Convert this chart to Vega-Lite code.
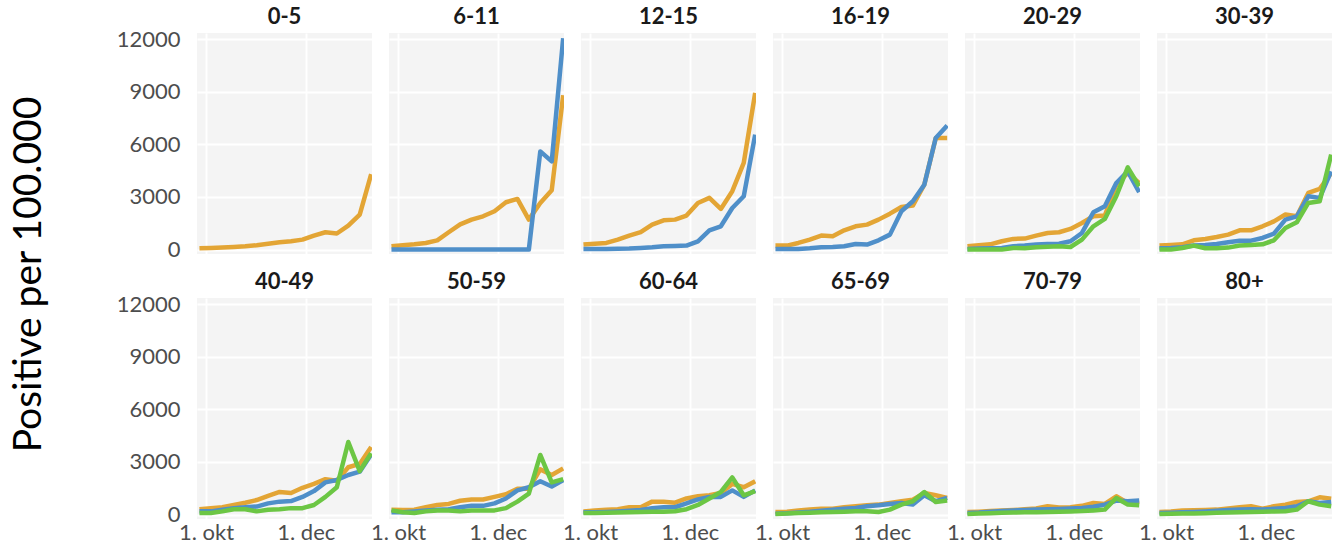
{
"$schema": "https://vega.github.io/schema/vega-lite/v6.json",
"padding": {"left": 10, "top": 6, "right": 0, "bottom": 0},
"background": "white",
"title": {"text": "Positive per 100.000", "orient": "left", "anchor": "middle", "font": "Lato", "fontSize": 39, "fontWeight": "normal", "color": "#000000", "offset": 67},
"data": {"values": [
{"a":"0-5","s":"Uvaccineret","d":"2021-09-27","v":75},{"a":"0-5","s":"Uvaccineret","d":"2021-10-04","v":90},{"a":"0-5","s":"Uvaccineret","d":"2021-10-11","v":115},{"a":"0-5","s":"Uvaccineret","d":"2021-10-18","v":150},{"a":"0-5","s":"Uvaccineret","d":"2021-10-25","v":190},{"a":"0-5","s":"Uvaccineret","d":"2021-11-01","v":250},{"a":"0-5","s":"Uvaccineret","d":"2021-11-08","v":330},{"a":"0-5","s":"Uvaccineret","d":"2021-11-15","v":420},{"a":"0-5","s":"Uvaccineret","d":"2021-11-22","v":480},{"a":"0-5","s":"Uvaccineret","d":"2021-11-29","v":570},{"a":"0-5","s":"Uvaccineret","d":"2021-12-06","v":800},{"a":"0-5","s":"Uvaccineret","d":"2021-12-13","v":990},{"a":"0-5","s":"Uvaccineret","d":"2021-12-20","v":920},{"a":"0-5","s":"Uvaccineret","d":"2021-12-27","v":1370},{"a":"0-5","s":"Uvaccineret","d":"2022-01-03","v":2000},{"a":"0-5","s":"Uvaccineret","d":"2022-01-10","v":4300},

{"a":"6-11","s":"Uvaccineret","d":"2021-09-27","v":190},{"a":"6-11","s":"Uvaccineret","d":"2021-10-04","v":250},{"a":"6-11","s":"Uvaccineret","d":"2021-10-11","v":300},{"a":"6-11","s":"Uvaccineret","d":"2021-10-18","v":380},{"a":"6-11","s":"Uvaccineret","d":"2021-10-25","v":530},{"a":"6-11","s":"Uvaccineret","d":"2021-11-01","v":990},{"a":"6-11","s":"Uvaccineret","d":"2021-11-08","v":1440},{"a":"6-11","s":"Uvaccineret","d":"2021-11-15","v":1710},{"a":"6-11","s":"Uvaccineret","d":"2021-11-22","v":1900},{"a":"6-11","s":"Uvaccineret","d":"2021-11-29","v":2190},{"a":"6-11","s":"Uvaccineret","d":"2021-12-06","v":2700},{"a":"6-11","s":"Uvaccineret","d":"2021-12-13","v":2890},{"a":"6-11","s":"Uvaccineret","d":"2021-12-20","v":1710},{"a":"6-11","s":"Uvaccineret","d":"2021-12-27","v":2660},{"a":"6-11","s":"Uvaccineret","d":"2022-01-03","v":3380},{"a":"6-11","s":"Uvaccineret","d":"2022-01-10","v":8800},
{"a":"6-11","s":"Færdigvaccineret","d":"2021-09-27","v":0},{"a":"6-11","s":"Færdigvaccineret","d":"2021-10-04","v":0},{"a":"6-11","s":"Færdigvaccineret","d":"2021-10-11","v":0},{"a":"6-11","s":"Færdigvaccineret","d":"2021-10-18","v":0},{"a":"6-11","s":"Færdigvaccineret","d":"2021-10-25","v":0},{"a":"6-11","s":"Færdigvaccineret","d":"2021-11-01","v":0},{"a":"6-11","s":"Færdigvaccineret","d":"2021-11-08","v":0},{"a":"6-11","s":"Færdigvaccineret","d":"2021-11-15","v":0},{"a":"6-11","s":"Færdigvaccineret","d":"2021-11-22","v":0},{"a":"6-11","s":"Færdigvaccineret","d":"2021-11-29","v":0},{"a":"6-11","s":"Færdigvaccineret","d":"2021-12-06","v":0},{"a":"6-11","s":"Færdigvaccineret","d":"2021-12-13","v":0},{"a":"6-11","s":"Færdigvaccineret","d":"2021-12-20","v":0},{"a":"6-11","s":"Færdigvaccineret","d":"2021-12-27","v":5600},{"a":"6-11","s":"Færdigvaccineret","d":"2022-01-03","v":5030},{"a":"6-11","s":"Færdigvaccineret","d":"2022-01-10","v":12060},

{"a":"12-15","s":"Uvaccineret","d":"2021-09-27","v":285},{"a":"12-15","s":"Uvaccineret","d":"2021-10-04","v":340},{"a":"12-15","s":"Uvaccineret","d":"2021-10-11","v":380},{"a":"12-15","s":"Uvaccineret","d":"2021-10-18","v":570},{"a":"12-15","s":"Uvaccineret","d":"2021-10-25","v":800},{"a":"12-15","s":"Uvaccineret","d":"2021-11-01","v":1000},{"a":"12-15","s":"Uvaccineret","d":"2021-11-08","v":1425},{"a":"12-15","s":"Uvaccineret","d":"2021-11-15","v":1670},{"a":"12-15","s":"Uvaccineret","d":"2021-11-22","v":1710},{"a":"12-15","s":"Uvaccineret","d":"2021-11-29","v":1940},{"a":"12-15","s":"Uvaccineret","d":"2021-12-06","v":2660},{"a":"12-15","s":"Uvaccineret","d":"2021-12-13","v":2950},{"a":"12-15","s":"Uvaccineret","d":"2021-12-20","v":2320},{"a":"12-15","s":"Uvaccineret","d":"2021-12-27","v":3330},{"a":"12-15","s":"Uvaccineret","d":"2022-01-03","v":4940},{"a":"12-15","s":"Uvaccineret","d":"2022-01-10","v":8930},
{"a":"12-15","s":"Færdigvaccineret","d":"2021-09-27","v":40},{"a":"12-15","s":"Færdigvaccineret","d":"2021-10-04","v":40},{"a":"12-15","s":"Færdigvaccineret","d":"2021-10-11","v":40},{"a":"12-15","s":"Færdigvaccineret","d":"2021-10-18","v":50},{"a":"12-15","s":"Færdigvaccineret","d":"2021-10-25","v":60},{"a":"12-15","s":"Færdigvaccineret","d":"2021-11-01","v":95},{"a":"12-15","s":"Færdigvaccineret","d":"2021-11-08","v":130},{"a":"12-15","s":"Færdigvaccineret","d":"2021-11-15","v":190},{"a":"12-15","s":"Færdigvaccineret","d":"2021-11-22","v":210},{"a":"12-15","s":"Færdigvaccineret","d":"2021-11-29","v":230},{"a":"12-15","s":"Færdigvaccineret","d":"2021-12-06","v":475},{"a":"12-15","s":"Færdigvaccineret","d":"2021-12-13","v":1100},{"a":"12-15","s":"Færdigvaccineret","d":"2021-12-20","v":1330},{"a":"12-15","s":"Færdigvaccineret","d":"2021-12-27","v":2375},{"a":"12-15","s":"Færdigvaccineret","d":"2022-01-03","v":3040},{"a":"12-15","s":"Færdigvaccineret","d":"2022-01-10","v":6555},

{"a":"16-19","s":"Uvaccineret","d":"2021-09-27","v":230},{"a":"16-19","s":"Uvaccineret","d":"2021-10-04","v":230},{"a":"16-19","s":"Uvaccineret","d":"2021-10-11","v":380},{"a":"16-19","s":"Uvaccineret","d":"2021-10-18","v":570},{"a":"16-19","s":"Uvaccineret","d":"2021-10-25","v":800},{"a":"16-19","s":"Uvaccineret","d":"2021-11-01","v":760},{"a":"16-19","s":"Uvaccineret","d":"2021-11-08","v":1100},{"a":"16-19","s":"Uvaccineret","d":"2021-11-15","v":1330},{"a":"16-19","s":"Uvaccineret","d":"2021-11-22","v":1425},{"a":"16-19","s":"Uvaccineret","d":"2021-11-29","v":1710},{"a":"16-19","s":"Uvaccineret","d":"2021-12-06","v":2050},{"a":"16-19","s":"Uvaccineret","d":"2021-12-13","v":2430},{"a":"16-19","s":"Uvaccineret","d":"2021-12-20","v":2510},{"a":"16-19","s":"Uvaccineret","d":"2021-12-27","v":3700},{"a":"16-19","s":"Uvaccineret","d":"2022-01-03","v":6365},{"a":"16-19","s":"Uvaccineret","d":"2022-01-10","v":6365},
{"a":"16-19","s":"Færdigvaccineret","d":"2021-09-27","v":40},{"a":"16-19","s":"Færdigvaccineret","d":"2021-10-04","v":40},{"a":"16-19","s":"Færdigvaccineret","d":"2021-10-11","v":40},{"a":"16-19","s":"Færdigvaccineret","d":"2021-10-18","v":75},{"a":"16-19","s":"Færdigvaccineret","d":"2021-10-25","v":135},{"a":"16-19","s":"Færdigvaccineret","d":"2021-11-01","v":150},{"a":"16-19","s":"Færdigvaccineret","d":"2021-11-08","v":190},{"a":"16-19","s":"Færdigvaccineret","d":"2021-11-15","v":320},{"a":"16-19","s":"Færdigvaccineret","d":"2021-11-22","v":285},{"a":"16-19","s":"Færdigvaccineret","d":"2021-11-29","v":530},{"a":"16-19","s":"Færdigvaccineret","d":"2021-12-06","v":855},{"a":"16-19","s":"Færdigvaccineret","d":"2021-12-13","v":2185},{"a":"16-19","s":"Færdigvaccineret","d":"2021-12-20","v":2755},{"a":"16-19","s":"Færdigvaccineret","d":"2021-12-27","v":3700},{"a":"16-19","s":"Færdigvaccineret","d":"2022-01-03","v":6365},{"a":"16-19","s":"Færdigvaccineret","d":"2022-01-10","v":7070},

{"a":"20-29","s":"Uvaccineret","d":"2021-09-27","v":190},{"a":"20-29","s":"Uvaccineret","d":"2021-10-04","v":250},{"a":"20-29","s":"Uvaccineret","d":"2021-10-11","v":300},{"a":"20-29","s":"Uvaccineret","d":"2021-10-18","v":475},{"a":"20-29","s":"Uvaccineret","d":"2021-10-25","v":610},{"a":"20-29","s":"Uvaccineret","d":"2021-11-01","v":630},{"a":"20-29","s":"Uvaccineret","d":"2021-11-08","v":800},{"a":"20-29","s":"Uvaccineret","d":"2021-11-15","v":950},{"a":"20-29","s":"Uvaccineret","d":"2021-11-22","v":990},{"a":"20-29","s":"Uvaccineret","d":"2021-11-29","v":1180},{"a":"20-29","s":"Uvaccineret","d":"2021-12-06","v":1520},{"a":"20-29","s":"Uvaccineret","d":"2021-12-13","v":1900},{"a":"20-29","s":"Uvaccineret","d":"2021-12-20","v":1940},{"a":"20-29","s":"Uvaccineret","d":"2021-12-27","v":3700},{"a":"20-29","s":"Uvaccineret","d":"2022-01-03","v":4370},{"a":"20-29","s":"Uvaccineret","d":"2022-01-10","v":3800},
{"a":"20-29","s":"Færdigvaccineret","d":"2021-09-27","v":40},{"a":"20-29","s":"Færdigvaccineret","d":"2021-10-04","v":60},{"a":"20-29","s":"Færdigvaccineret","d":"2021-10-11","v":75},{"a":"20-29","s":"Færdigvaccineret","d":"2021-10-18","v":95},{"a":"20-29","s":"Færdigvaccineret","d":"2021-10-25","v":190},{"a":"20-29","s":"Færdigvaccineret","d":"2021-11-01","v":230},{"a":"20-29","s":"Færdigvaccineret","d":"2021-11-08","v":285},{"a":"20-29","s":"Færdigvaccineret","d":"2021-11-15","v":320},{"a":"20-29","s":"Færdigvaccineret","d":"2021-11-22","v":340},{"a":"20-29","s":"Færdigvaccineret","d":"2021-11-29","v":475},{"a":"20-29","s":"Færdigvaccineret","d":"2021-12-06","v":950},{"a":"20-29","s":"Færdigvaccineret","d":"2021-12-13","v":2130},{"a":"20-29","s":"Færdigvaccineret","d":"2021-12-20","v":2470},{"a":"20-29","s":"Færdigvaccineret","d":"2021-12-27","v":3800},{"a":"20-29","s":"Færdigvaccineret","d":"2022-01-03","v":4465},{"a":"20-29","s":"Færdigvaccineret","d":"2022-01-10","v":3270},
{"a":"20-29","s":"Revaccineret","d":"2021-09-27","v":0},{"a":"20-29","s":"Revaccineret","d":"2021-10-04","v":0},{"a":"20-29","s":"Revaccineret","d":"2021-10-11","v":0},{"a":"20-29","s":"Revaccineret","d":"2021-10-18","v":0},{"a":"20-29","s":"Revaccineret","d":"2021-10-25","v":95},{"a":"20-29","s":"Revaccineret","d":"2021-11-01","v":75},{"a":"20-29","s":"Revaccineret","d":"2021-11-08","v":130},{"a":"20-29","s":"Revaccineret","d":"2021-11-15","v":170},{"a":"20-29","s":"Revaccineret","d":"2021-11-22","v":190},{"a":"20-29","s":"Revaccineret","d":"2021-11-29","v":150},{"a":"20-29","s":"Revaccineret","d":"2021-12-06","v":570},{"a":"20-29","s":"Revaccineret","d":"2021-12-13","v":1330},{"a":"20-29","s":"Revaccineret","d":"2021-12-20","v":1750},{"a":"20-29","s":"Revaccineret","d":"2021-12-27","v":3040},{"a":"20-29","s":"Revaccineret","d":"2022-01-03","v":4690},{"a":"20-29","s":"Revaccineret","d":"2022-01-10","v":3610},

{"a":"30-39","s":"Uvaccineret","d":"2021-09-27","v":230},{"a":"30-39","s":"Uvaccineret","d":"2021-10-04","v":265},{"a":"30-39","s":"Uvaccineret","d":"2021-10-11","v":300},{"a":"30-39","s":"Uvaccineret","d":"2021-10-18","v":530},{"a":"30-39","s":"Uvaccineret","d":"2021-10-25","v":610},{"a":"30-39","s":"Uvaccineret","d":"2021-11-01","v":720},{"a":"30-39","s":"Uvaccineret","d":"2021-11-08","v":855},{"a":"30-39","s":"Uvaccineret","d":"2021-11-15","v":1100},{"a":"30-39","s":"Uvaccineret","d":"2021-11-22","v":1100},{"a":"30-39","s":"Uvaccineret","d":"2021-11-29","v":1330},{"a":"30-39","s":"Uvaccineret","d":"2021-12-06","v":1610},{"a":"30-39","s":"Uvaccineret","d":"2021-12-13","v":2000},{"a":"30-39","s":"Uvaccineret","d":"2021-12-20","v":1900},{"a":"30-39","s":"Uvaccineret","d":"2021-12-27","v":3230},{"a":"30-39","s":"Uvaccineret","d":"2022-01-03","v":3460},{"a":"30-39","s":"Uvaccineret","d":"2022-01-10","v":4370},
{"a":"30-39","s":"Færdigvaccineret","d":"2021-09-27","v":75},{"a":"30-39","s":"Færdigvaccineret","d":"2021-10-04","v":95},{"a":"30-39","s":"Færdigvaccineret","d":"2021-10-11","v":130},{"a":"30-39","s":"Færdigvaccineret","d":"2021-10-18","v":230},{"a":"30-39","s":"Færdigvaccineret","d":"2021-10-25","v":265},{"a":"30-39","s":"Færdigvaccineret","d":"2021-11-01","v":320},{"a":"30-39","s":"Færdigvaccineret","d":"2021-11-08","v":420},{"a":"30-39","s":"Færdigvaccineret","d":"2021-11-15","v":510},{"a":"30-39","s":"Færdigvaccineret","d":"2021-11-22","v":510},{"a":"30-39","s":"Færdigvaccineret","d":"2021-11-29","v":665},{"a":"30-39","s":"Færdigvaccineret","d":"2021-12-06","v":910},{"a":"30-39","s":"Færdigvaccineret","d":"2021-12-13","v":1710},{"a":"30-39","s":"Færdigvaccineret","d":"2021-12-20","v":1900},{"a":"30-39","s":"Færdigvaccineret","d":"2021-12-27","v":3040},{"a":"30-39","s":"Færdigvaccineret","d":"2022-01-03","v":2950},{"a":"30-39","s":"Færdigvaccineret","d":"2022-01-10","v":4465},
{"a":"30-39","s":"Revaccineret","d":"2021-09-27","v":0},{"a":"30-39","s":"Revaccineret","d":"2021-10-04","v":0},{"a":"30-39","s":"Revaccineret","d":"2021-10-11","v":95},{"a":"30-39","s":"Revaccineret","d":"2021-10-18","v":230},{"a":"30-39","s":"Revaccineret","d":"2021-10-25","v":75},{"a":"30-39","s":"Revaccineret","d":"2021-11-01","v":75},{"a":"30-39","s":"Revaccineret","d":"2021-11-08","v":115},{"a":"30-39","s":"Revaccineret","d":"2021-11-15","v":230},{"a":"30-39","s":"Revaccineret","d":"2021-11-22","v":265},{"a":"30-39","s":"Revaccineret","d":"2021-11-29","v":300},{"a":"30-39","s":"Revaccineret","d":"2021-12-06","v":530},{"a":"30-39","s":"Revaccineret","d":"2021-12-13","v":1235},{"a":"30-39","s":"Revaccineret","d":"2021-12-20","v":1560},{"a":"30-39","s":"Revaccineret","d":"2021-12-27","v":2660},{"a":"30-39","s":"Revaccineret","d":"2022-01-03","v":2755},{"a":"30-39","s":"Revaccineret","d":"2022-01-10","v":5415},

{"a":"40-49","s":"Uvaccineret","d":"2021-09-27","v":310},{"a":"40-49","s":"Uvaccineret","d":"2021-10-04","v":370},{"a":"40-49","s":"Uvaccineret","d":"2021-10-11","v":420},{"a":"40-49","s":"Uvaccineret","d":"2021-10-18","v":550},{"a":"40-49","s":"Uvaccineret","d":"2021-10-25","v":680},{"a":"40-49","s":"Uvaccineret","d":"2021-11-01","v":830},{"a":"40-49","s":"Uvaccineret","d":"2021-11-08","v":1070},{"a":"40-49","s":"Uvaccineret","d":"2021-11-15","v":1290},{"a":"40-49","s":"Uvaccineret","d":"2021-11-22","v":1230},{"a":"40-49","s":"Uvaccineret","d":"2021-11-29","v":1530},{"a":"40-49","s":"Uvaccineret","d":"2021-12-06","v":1750},{"a":"40-49","s":"Uvaccineret","d":"2021-12-13","v":2020},{"a":"40-49","s":"Uvaccineret","d":"2021-12-20","v":1930},{"a":"40-49","s":"Uvaccineret","d":"2021-12-27","v":2700},{"a":"40-49","s":"Uvaccineret","d":"2022-01-03","v":2890},{"a":"40-49","s":"Uvaccineret","d":"2022-01-10","v":3860},
{"a":"40-49","s":"Færdigvaccineret","d":"2021-09-27","v":185},{"a":"40-49","s":"Færdigvaccineret","d":"2021-10-04","v":185},{"a":"40-49","s":"Færdigvaccineret","d":"2021-10-11","v":275},{"a":"40-49","s":"Færdigvaccineret","d":"2021-10-18","v":370},{"a":"40-49","s":"Færdigvaccineret","d":"2021-10-25","v":420},{"a":"40-49","s":"Færdigvaccineret","d":"2021-11-01","v":460},{"a":"40-49","s":"Færdigvaccineret","d":"2021-11-08","v":640},{"a":"40-49","s":"Færdigvaccineret","d":"2021-11-15","v":740},{"a":"40-49","s":"Færdigvaccineret","d":"2021-11-22","v":770},{"a":"40-49","s":"Færdigvaccineret","d":"2021-11-29","v":1010},{"a":"40-49","s":"Færdigvaccineret","d":"2021-12-06","v":1340},{"a":"40-49","s":"Færdigvaccineret","d":"2021-12-13","v":1840},{"a":"40-49","s":"Færdigvaccineret","d":"2021-12-20","v":1970},{"a":"40-49","s":"Færdigvaccineret","d":"2021-12-27","v":2260},{"a":"40-49","s":"Færdigvaccineret","d":"2022-01-03","v":2450},{"a":"40-49","s":"Færdigvaccineret","d":"2022-01-10","v":3440},
{"a":"40-49","s":"Revaccineret","d":"2021-09-27","v":90},{"a":"40-49","s":"Revaccineret","d":"2021-10-04","v":90},{"a":"40-49","s":"Revaccineret","d":"2021-10-11","v":185},{"a":"40-49","s":"Revaccineret","d":"2021-10-18","v":310},{"a":"40-49","s":"Revaccineret","d":"2021-10-25","v":310},{"a":"40-49","s":"Revaccineret","d":"2021-11-01","v":185},{"a":"40-49","s":"Revaccineret","d":"2021-11-08","v":275},{"a":"40-49","s":"Revaccineret","d":"2021-11-15","v":310},{"a":"40-49","s":"Revaccineret","d":"2021-11-22","v":370},{"a":"40-49","s":"Revaccineret","d":"2021-11-29","v":370},{"a":"40-49","s":"Revaccineret","d":"2021-12-06","v":550},{"a":"40-49","s":"Revaccineret","d":"2021-12-13","v":1010},{"a":"40-49","s":"Revaccineret","d":"2021-12-20","v":1560},{"a":"40-49","s":"Revaccineret","d":"2021-12-27","v":4140},{"a":"40-49","s":"Revaccineret","d":"2022-01-03","v":2480},{"a":"40-49","s":"Revaccineret","d":"2022-01-10","v":3500},

{"a":"50-59","s":"Uvaccineret","d":"2021-09-27","v":275},{"a":"50-59","s":"Uvaccineret","d":"2021-10-04","v":260},{"a":"50-59","s":"Uvaccineret","d":"2021-10-11","v":275},{"a":"50-59","s":"Uvaccineret","d":"2021-10-18","v":420},{"a":"50-59","s":"Uvaccineret","d":"2021-10-25","v":550},{"a":"50-59","s":"Uvaccineret","d":"2021-11-01","v":610},{"a":"50-59","s":"Uvaccineret","d":"2021-11-08","v":790},{"a":"50-59","s":"Uvaccineret","d":"2021-11-15","v":865},{"a":"50-59","s":"Uvaccineret","d":"2021-11-22","v":865},{"a":"50-59","s":"Uvaccineret","d":"2021-11-29","v":1010},{"a":"50-59","s":"Uvaccineret","d":"2021-12-06","v":1160},{"a":"50-59","s":"Uvaccineret","d":"2021-12-13","v":1470},{"a":"50-59","s":"Uvaccineret","d":"2021-12-20","v":1470},{"a":"50-59","s":"Uvaccineret","d":"2021-12-27","v":2580},{"a":"50-59","s":"Uvaccineret","d":"2022-01-03","v":2260},{"a":"50-59","s":"Uvaccineret","d":"2022-01-10","v":2630},
{"a":"50-59","s":"Færdigvaccineret","d":"2021-09-27","v":130},{"a":"50-59","s":"Færdigvaccineret","d":"2021-10-04","v":130},{"a":"50-59","s":"Færdigvaccineret","d":"2021-10-11","v":185},{"a":"50-59","s":"Færdigvaccineret","d":"2021-10-18","v":240},{"a":"50-59","s":"Færdigvaccineret","d":"2021-10-25","v":275},{"a":"50-59","s":"Færdigvaccineret","d":"2021-11-01","v":310},{"a":"50-59","s":"Færdigvaccineret","d":"2021-11-08","v":420},{"a":"50-59","s":"Færdigvaccineret","d":"2021-11-15","v":500},{"a":"50-59","s":"Færdigvaccineret","d":"2021-11-22","v":500},{"a":"50-59","s":"Færdigvaccineret","d":"2021-11-29","v":640},{"a":"50-59","s":"Færdigvaccineret","d":"2021-12-06","v":920},{"a":"50-59","s":"Færdigvaccineret","d":"2021-12-13","v":1380},{"a":"50-59","s":"Færdigvaccineret","d":"2021-12-20","v":1560},{"a":"50-59","s":"Færdigvaccineret","d":"2021-12-27","v":1900},{"a":"50-59","s":"Færdigvaccineret","d":"2022-01-03","v":1600},{"a":"50-59","s":"Færdigvaccineret","d":"2022-01-10","v":1970},
{"a":"50-59","s":"Revaccineret","d":"2021-09-27","v":240},{"a":"50-59","s":"Revaccineret","d":"2021-10-04","v":130},{"a":"50-59","s":"Revaccineret","d":"2021-10-11","v":90},{"a":"50-59","s":"Revaccineret","d":"2021-10-18","v":185},{"a":"50-59","s":"Revaccineret","d":"2021-10-25","v":240},{"a":"50-59","s":"Revaccineret","d":"2021-11-01","v":240},{"a":"50-59","s":"Revaccineret","d":"2021-11-08","v":185},{"a":"50-59","s":"Revaccineret","d":"2021-11-15","v":240},{"a":"50-59","s":"Revaccineret","d":"2021-11-22","v":240},{"a":"50-59","s":"Revaccineret","d":"2021-11-29","v":240},{"a":"50-59","s":"Revaccineret","d":"2021-12-06","v":370},{"a":"50-59","s":"Revaccineret","d":"2021-12-13","v":740},{"a":"50-59","s":"Revaccineret","d":"2021-12-20","v":1200},{"a":"50-59","s":"Revaccineret","d":"2021-12-27","v":3400},{"a":"50-59","s":"Revaccineret","d":"2022-01-03","v":1840},{"a":"50-59","s":"Revaccineret","d":"2022-01-10","v":2020},

{"a":"60-64","s":"Uvaccineret","d":"2021-09-27","v":185},{"a":"60-64","s":"Uvaccineret","d":"2021-10-04","v":240},{"a":"60-64","s":"Uvaccineret","d":"2021-10-11","v":275},{"a":"60-64","s":"Uvaccineret","d":"2021-10-18","v":310},{"a":"60-64","s":"Uvaccineret","d":"2021-10-25","v":420},{"a":"60-64","s":"Uvaccineret","d":"2021-11-01","v":420},{"a":"60-64","s":"Uvaccineret","d":"2021-11-08","v":740},{"a":"60-64","s":"Uvaccineret","d":"2021-11-15","v":740},{"a":"60-64","s":"Uvaccineret","d":"2021-11-22","v":680},{"a":"60-64","s":"Uvaccineret","d":"2021-11-29","v":920},{"a":"60-64","s":"Uvaccineret","d":"2021-12-06","v":1050},{"a":"60-64","s":"Uvaccineret","d":"2021-12-13","v":1100},{"a":"60-64","s":"Uvaccineret","d":"2021-12-20","v":1230},{"a":"60-64","s":"Uvaccineret","d":"2021-12-27","v":1750},{"a":"60-64","s":"Uvaccineret","d":"2022-01-03","v":1560},{"a":"60-64","s":"Uvaccineret","d":"2022-01-10","v":1900},
{"a":"60-64","s":"Færdigvaccineret","d":"2021-09-27","v":130},{"a":"60-64","s":"Færdigvaccineret","d":"2021-10-04","v":130},{"a":"60-64","s":"Færdigvaccineret","d":"2021-10-11","v":150},{"a":"60-64","s":"Færdigvaccineret","d":"2021-10-18","v":180},{"a":"60-64","s":"Færdigvaccineret","d":"2021-10-25","v":220},{"a":"60-64","s":"Færdigvaccineret","d":"2021-11-01","v":260},{"a":"60-64","s":"Færdigvaccineret","d":"2021-11-08","v":370},{"a":"60-64","s":"Færdigvaccineret","d":"2021-11-15","v":420},{"a":"60-64","s":"Færdigvaccineret","d":"2021-11-22","v":420},{"a":"60-64","s":"Færdigvaccineret","d":"2021-11-29","v":640},{"a":"60-64","s":"Færdigvaccineret","d":"2021-12-06","v":865},{"a":"60-64","s":"Færdigvaccineret","d":"2021-12-13","v":1010},{"a":"60-64","s":"Færdigvaccineret","d":"2021-12-20","v":1010},{"a":"60-64","s":"Færdigvaccineret","d":"2021-12-27","v":1380},{"a":"60-64","s":"Færdigvaccineret","d":"2022-01-03","v":1010},{"a":"60-64","s":"Færdigvaccineret","d":"2022-01-10","v":1380},
{"a":"60-64","s":"Revaccineret","d":"2021-09-27","v":90},{"a":"60-64","s":"Revaccineret","d":"2021-10-04","v":90},{"a":"60-64","s":"Revaccineret","d":"2021-10-11","v":100},{"a":"60-64","s":"Revaccineret","d":"2021-10-18","v":120},{"a":"60-64","s":"Revaccineret","d":"2021-10-25","v":140},{"a":"60-64","s":"Revaccineret","d":"2021-11-01","v":150},{"a":"60-64","s":"Revaccineret","d":"2021-11-08","v":160},{"a":"60-64","s":"Revaccineret","d":"2021-11-15","v":170},{"a":"60-64","s":"Revaccineret","d":"2021-11-22","v":190},{"a":"60-64","s":"Revaccineret","d":"2021-11-29","v":310},{"a":"60-64","s":"Revaccineret","d":"2021-12-06","v":550},{"a":"60-64","s":"Revaccineret","d":"2021-12-13","v":920},{"a":"60-64","s":"Revaccineret","d":"2021-12-20","v":1290},{"a":"60-64","s":"Revaccineret","d":"2021-12-27","v":2120},{"a":"60-64","s":"Revaccineret","d":"2022-01-03","v":1100},{"a":"60-64","s":"Revaccineret","d":"2022-01-10","v":1340},

{"a":"65-69","s":"Uvaccineret","d":"2021-09-27","v":150},{"a":"65-69","s":"Uvaccineret","d":"2021-10-04","v":170},{"a":"65-69","s":"Uvaccineret","d":"2021-10-11","v":230},{"a":"65-69","s":"Uvaccineret","d":"2021-10-18","v":285},{"a":"65-69","s":"Uvaccineret","d":"2021-10-25","v":340},{"a":"65-69","s":"Uvaccineret","d":"2021-11-01","v":340},{"a":"65-69","s":"Uvaccineret","d":"2021-11-08","v":420},{"a":"65-69","s":"Uvaccineret","d":"2021-11-15","v":475},{"a":"65-69","s":"Uvaccineret","d":"2021-11-22","v":530},{"a":"65-69","s":"Uvaccineret","d":"2021-11-29","v":570},{"a":"65-69","s":"Uvaccineret","d":"2021-12-06","v":665},{"a":"65-69","s":"Uvaccineret","d":"2021-12-13","v":760},{"a":"65-69","s":"Uvaccineret","d":"2021-12-20","v":855},{"a":"65-69","s":"Uvaccineret","d":"2021-12-27","v":1235},{"a":"65-69","s":"Uvaccineret","d":"2022-01-03","v":1100},{"a":"65-69","s":"Uvaccineret","d":"2022-01-10","v":950},
{"a":"65-69","s":"Færdigvaccineret","d":"2021-09-27","v":55},{"a":"65-69","s":"Færdigvaccineret","d":"2021-10-04","v":80},{"a":"65-69","s":"Færdigvaccineret","d":"2021-10-11","v":120},{"a":"65-69","s":"Færdigvaccineret","d":"2021-10-18","v":160},{"a":"65-69","s":"Færdigvaccineret","d":"2021-10-25","v":220},{"a":"65-69","s":"Færdigvaccineret","d":"2021-11-01","v":280},{"a":"65-69","s":"Færdigvaccineret","d":"2021-11-08","v":340},{"a":"65-69","s":"Færdigvaccineret","d":"2021-11-15","v":380},{"a":"65-69","s":"Færdigvaccineret","d":"2021-11-22","v":475},{"a":"65-69","s":"Færdigvaccineret","d":"2021-11-29","v":530},{"a":"65-69","s":"Færdigvaccineret","d":"2021-12-06","v":610},{"a":"65-69","s":"Færdigvaccineret","d":"2021-12-13","v":665},{"a":"65-69","s":"Færdigvaccineret","d":"2021-12-20","v":570},{"a":"65-69","s":"Færdigvaccineret","d":"2021-12-27","v":1100},{"a":"65-69","s":"Færdigvaccineret","d":"2022-01-03","v":760},{"a":"65-69","s":"Færdigvaccineret","d":"2022-01-10","v":950},
{"a":"65-69","s":"Revaccineret","d":"2021-09-27","v":40},{"a":"65-69","s":"Revaccineret","d":"2021-10-04","v":60},{"a":"65-69","s":"Revaccineret","d":"2021-10-11","v":95},{"a":"65-69","s":"Revaccineret","d":"2021-10-18","v":110},{"a":"65-69","s":"Revaccineret","d":"2021-10-25","v":130},{"a":"65-69","s":"Revaccineret","d":"2021-11-01","v":150},{"a":"65-69","s":"Revaccineret","d":"2021-11-08","v":170},{"a":"65-69","s":"Revaccineret","d":"2021-11-15","v":190},{"a":"65-69","s":"Revaccineret","d":"2021-11-22","v":190},{"a":"65-69","s":"Revaccineret","d":"2021-11-29","v":150},{"a":"65-69","s":"Revaccineret","d":"2021-12-06","v":285},{"a":"65-69","s":"Revaccineret","d":"2021-12-13","v":570},{"a":"65-69","s":"Revaccineret","d":"2021-12-20","v":760},{"a":"65-69","s":"Revaccineret","d":"2021-12-27","v":1290},{"a":"65-69","s":"Revaccineret","d":"2022-01-03","v":720},{"a":"65-69","s":"Revaccineret","d":"2022-01-10","v":800},

{"a":"70-79","s":"Uvaccineret","d":"2021-09-27","v":150},{"a":"70-79","s":"Uvaccineret","d":"2021-10-04","v":170},{"a":"70-79","s":"Uvaccineret","d":"2021-10-11","v":200},{"a":"70-79","s":"Uvaccineret","d":"2021-10-18","v":230},{"a":"70-79","s":"Uvaccineret","d":"2021-10-25","v":260},{"a":"70-79","s":"Uvaccineret","d":"2021-11-01","v":300},{"a":"70-79","s":"Uvaccineret","d":"2021-11-08","v":350},{"a":"70-79","s":"Uvaccineret","d":"2021-11-15","v":475},{"a":"70-79","s":"Uvaccineret","d":"2021-11-22","v":400},{"a":"70-79","s":"Uvaccineret","d":"2021-11-29","v":420},{"a":"70-79","s":"Uvaccineret","d":"2021-12-06","v":500},{"a":"70-79","s":"Uvaccineret","d":"2021-12-13","v":665},{"a":"70-79","s":"Uvaccineret","d":"2021-12-20","v":610},{"a":"70-79","s":"Uvaccineret","d":"2021-12-27","v":1045},{"a":"70-79","s":"Uvaccineret","d":"2022-01-03","v":665},{"a":"70-79","s":"Uvaccineret","d":"2022-01-10","v":760},
{"a":"70-79","s":"Færdigvaccineret","d":"2021-09-27","v":95},{"a":"70-79","s":"Færdigvaccineret","d":"2021-10-04","v":120},{"a":"70-79","s":"Færdigvaccineret","d":"2021-10-11","v":160},{"a":"70-79","s":"Færdigvaccineret","d":"2021-10-18","v":200},{"a":"70-79","s":"Færdigvaccineret","d":"2021-10-25","v":240},{"a":"70-79","s":"Færdigvaccineret","d":"2021-11-01","v":260},{"a":"70-79","s":"Færdigvaccineret","d":"2021-11-08","v":285},{"a":"70-79","s":"Færdigvaccineret","d":"2021-11-15","v":300},{"a":"70-79","s":"Færdigvaccineret","d":"2021-11-22","v":320},{"a":"70-79","s":"Færdigvaccineret","d":"2021-11-29","v":350},{"a":"70-79","s":"Færdigvaccineret","d":"2021-12-06","v":380},{"a":"70-79","s":"Færdigvaccineret","d":"2021-12-13","v":450},{"a":"70-79","s":"Færdigvaccineret","d":"2021-12-20","v":570},{"a":"70-79","s":"Færdigvaccineret","d":"2021-12-27","v":800},{"a":"70-79","s":"Færdigvaccineret","d":"2022-01-03","v":760},{"a":"70-79","s":"Færdigvaccineret","d":"2022-01-10","v":800},
{"a":"70-79","s":"Revaccineret","d":"2021-09-27","v":40},{"a":"70-79","s":"Revaccineret","d":"2021-10-04","v":60},{"a":"70-79","s":"Revaccineret","d":"2021-10-11","v":80},{"a":"70-79","s":"Revaccineret","d":"2021-10-18","v":100},{"a":"70-79","s":"Revaccineret","d":"2021-10-25","v":120},{"a":"70-79","s":"Revaccineret","d":"2021-11-01","v":130},{"a":"70-79","s":"Revaccineret","d":"2021-11-08","v":140},{"a":"70-79","s":"Revaccineret","d":"2021-11-15","v":150},{"a":"70-79","s":"Revaccineret","d":"2021-11-22","v":160},{"a":"70-79","s":"Revaccineret","d":"2021-11-29","v":180},{"a":"70-79","s":"Revaccineret","d":"2021-12-06","v":200},{"a":"70-79","s":"Revaccineret","d":"2021-12-13","v":240},{"a":"70-79","s":"Revaccineret","d":"2021-12-20","v":285},{"a":"70-79","s":"Revaccineret","d":"2021-12-27","v":950},{"a":"70-79","s":"Revaccineret","d":"2022-01-03","v":570},{"a":"70-79","s":"Revaccineret","d":"2022-01-10","v":530},

{"a":"80+","s":"Uvaccineret","d":"2021-09-27","v":150},{"a":"80+","s":"Uvaccineret","d":"2021-10-04","v":180},{"a":"80+","s":"Uvaccineret","d":"2021-10-11","v":230},{"a":"80+","s":"Uvaccineret","d":"2021-10-18","v":250},{"a":"80+","s":"Uvaccineret","d":"2021-10-25","v":270},{"a":"80+","s":"Uvaccineret","d":"2021-11-01","v":285},{"a":"80+","s":"Uvaccineret","d":"2021-11-08","v":350},{"a":"80+","s":"Uvaccineret","d":"2021-11-15","v":420},{"a":"80+","s":"Uvaccineret","d":"2021-11-22","v":475},{"a":"80+","s":"Uvaccineret","d":"2021-11-29","v":340},{"a":"80+","s":"Uvaccineret","d":"2021-12-06","v":475},{"a":"80+","s":"Uvaccineret","d":"2021-12-13","v":570},{"a":"80+","s":"Uvaccineret","d":"2021-12-20","v":720},{"a":"80+","s":"Uvaccineret","d":"2021-12-27","v":760},{"a":"80+","s":"Uvaccineret","d":"2022-01-03","v":990},{"a":"80+","s":"Uvaccineret","d":"2022-01-10","v":910},
{"a":"80+","s":"Færdigvaccineret","d":"2021-09-27","v":95},{"a":"80+","s":"Færdigvaccineret","d":"2021-10-04","v":110},{"a":"80+","s":"Færdigvaccineret","d":"2021-10-11","v":130},{"a":"80+","s":"Færdigvaccineret","d":"2021-10-18","v":150},{"a":"80+","s":"Færdigvaccineret","d":"2021-10-25","v":180},{"a":"80+","s":"Færdigvaccineret","d":"2021-11-01","v":220},{"a":"80+","s":"Færdigvaccineret","d":"2021-11-08","v":260},{"a":"80+","s":"Færdigvaccineret","d":"2021-11-15","v":285},{"a":"80+","s":"Færdigvaccineret","d":"2021-11-22","v":300},{"a":"80+","s":"Færdigvaccineret","d":"2021-11-29","v":285},{"a":"80+","s":"Færdigvaccineret","d":"2021-12-06","v":330},{"a":"80+","s":"Færdigvaccineret","d":"2021-12-13","v":380},{"a":"80+","s":"Færdigvaccineret","d":"2021-12-20","v":475},{"a":"80+","s":"Færdigvaccineret","d":"2021-12-27","v":760},{"a":"80+","s":"Færdigvaccineret","d":"2022-01-03","v":665},{"a":"80+","s":"Færdigvaccineret","d":"2022-01-10","v":720},
{"a":"80+","s":"Revaccineret","d":"2021-09-27","v":40},{"a":"80+","s":"Revaccineret","d":"2021-10-04","v":50},{"a":"80+","s":"Revaccineret","d":"2021-10-11","v":60},{"a":"80+","s":"Revaccineret","d":"2021-10-18","v":70},{"a":"80+","s":"Revaccineret","d":"2021-10-25","v":80},{"a":"80+","s":"Revaccineret","d":"2021-11-01","v":100},{"a":"80+","s":"Revaccineret","d":"2021-11-08","v":120},{"a":"80+","s":"Revaccineret","d":"2021-11-15","v":140},{"a":"80+","s":"Revaccineret","d":"2021-11-22","v":150},{"a":"80+","s":"Revaccineret","d":"2021-11-29","v":160},{"a":"80+","s":"Revaccineret","d":"2021-12-06","v":180},{"a":"80+","s":"Revaccineret","d":"2021-12-13","v":190},{"a":"80+","s":"Revaccineret","d":"2021-12-20","v":285},{"a":"80+","s":"Revaccineret","d":"2021-12-27","v":760},{"a":"80+","s":"Revaccineret","d":"2022-01-03","v":570},{"a":"80+","s":"Revaccineret","d":"2022-01-10","v":475}
]},
"facet": {"field": "a", "type": "nominal", "sort": ["0-5","6-11","12-15","16-19","20-29","30-39","40-49","50-59","60-64","65-69","70-79","80+"],
  "header": {"title": null, "labelFont": "Lato", "labelFontSize": 22, "labelFontWeight": "bold", "labelColor": "#1a1a1a", "labelPadding": 4}},
"columns": 6,
"spacing": {"row": 17, "column": 17},
"spec": {
  "width": 175, "height": 221,
  "mark": {"type": "line", "strokeWidth": 4.5, "clip": true, "strokeJoin": "round"},
  "encoding": {
    "x": {"field": "d", "type": "temporal",
      "scale": {"type": "utc", "domain": [{"year":2021,"month":9,"date":25,"hours":12,"utc":true},{"year":2022,"month":1,"date":10,"hours":12,"utc":true}]},
      "axis": {"title": null, "values": [{"year":2021,"month":10,"date":1,"utc":true},{"year":2021,"month":12,"date":1,"utc":true}],
        "labelExpr": "utcmonth(datum.value) == 9 ? '1. okt' : '1. dec'", "labelFlush": false, "labelOverlap": false, "labelPadding": 3, "labelAlign": "center"}},
    "y": {"field": "v", "type": "quantitative",
      "scale": {"domain": [-250, 12350], "nice": false, "zero": false},
      "axis": {"title": null, "values": [0, 3000, 6000, 9000, 12000], "format": "d", "labelPadding": 17}},
    "color": {"field": "s", "type": "nominal",
      "scale": {"domain": ["Uvaccineret", "Færdigvaccineret", "Revaccineret"], "range": ["#E3A535", "#4F8FC9", "#6CC644"]},
      "legend": null}
  }
},
"config": {
  "view": {"fill": "#f4f4f4", "stroke": null},
  "axis": {"grid": true, "gridColor": "#ffffff", "gridWidth": 2, "gridOpacity": 1, "domain": false, "ticks": false,
    "labelFont": "Lato", "labelFontSize": 22, "labelColor": "#4d4d4d", "titleFont": "Lato"}
}
}
